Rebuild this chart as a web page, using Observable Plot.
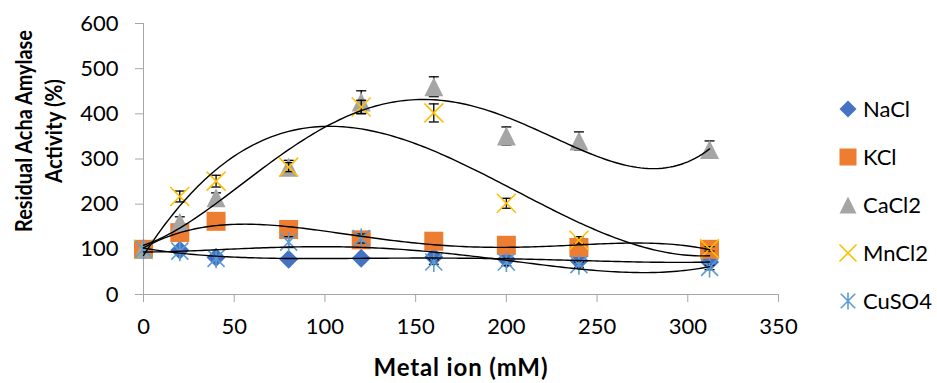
<!DOCTYPE html>
<html>
<head>
<meta charset="utf-8">
<script src="https://cdn.jsdelivr.net/npm/d3@7"></script>
<script src="https://cdn.jsdelivr.net/npm/@observablehq/plot@0.6"></script>
<style>
  body { margin: 0; background: #fff; }
  #chart { width: 937px; height: 383px; }
</style>
</head>
<body>
<div id="chart"></div>
<script>
// Metal ion concentration (mM)
const concentration = [0, 20, 40, 80, 120, 160, 200, 240, 312];

// Residual activity (%) for each salt
const nacl  = [100,  98,  82,  78,  80,  83,  78,  75,  72];
const kcl   = [100, 137, 162, 144, 121, 118, 109, 104, 100];
const cacl2 = [100, 160, 214, 282, 426, 460, 351, 340, 321];
const mncl2 = [100, 217, 251, 282, 415, 402, 202, 120, 101];
const cuso4 = [100,  96,  80, 116, 124,  72,  72,  66,  60];

// Standard deviations (error bars)
const naclErr  = [0, 0, 0, 0, 0, 0, 0, 0, 0];
const kclErr   = [0, 0, 0, 0, 0, 0, 0, 0, 0];
const cacl2Err = [0, 12, 11, 15, 25, 22, 20, 20, 19];
const mncl2Err = [0, 12, 13, 10, 15, 20, 11, 8, 5];
const cuso4Err = [0, 0, 0, 12, 10, 5, 8, 6, 5];

// Polynomial order of each trend line
const trendOrder = [4, 4, 4, 3, 4];

const saltNames = ["NaCl", "KCl", "CaCl2", "MnCl2", "CuSO4"];
const saltColors = ["#4472C4", "#ED7D31", "#A5A5A5", "#FFC000", "#5B9BD5"];
const xTicks = [0, 50, 100, 150, 200, 250, 300, 350];
const yTicks = [0, 100, 200, 300, 400, 500, 600];

// Marker shapes (half-size = r)
const half = size => Math.sqrt(size / Math.PI);
const diamond = {draw(c, s) { const h = half(s); c.moveTo(0, -h); c.lineTo(h, 0); c.lineTo(0, h); c.lineTo(-h, 0); c.closePath(); }};
const square = {draw(c, s) { const h = half(s); c.rect(-h, -h, 2 * h, 2 * h); }};
const triangle = {draw(c, s) { const h = half(s); c.moveTo(0, -h); c.lineTo(h, h); c.lineTo(-h, h); c.closePath(); }};
const cross = {draw(c, s) { const h = half(s); c.moveTo(-h, -h); c.lineTo(h, h); c.moveTo(h, -h); c.lineTo(-h, h); }};
const star = {draw(c, s) { const h = half(s), d = h * 0.85; c.moveTo(0, -h); c.lineTo(0, h); c.moveTo(-d, -d); c.lineTo(d, d); c.moveTo(d, -d); c.lineTo(-d, d); }};
const cap = {draw(c, s) { const h = half(s); c.moveTo(-h, 0); c.lineTo(h, 0); }};

const series = [
  {name: saltNames[0], values: nacl,  err: naclErr,  color: saltColors[0], symbol: diamond,  filled: true,  r: 9.5},
  {name: saltNames[1], values: kcl,   err: kclErr,   color: saltColors[1], symbol: square,   filled: true,  r: 9.5},
  {name: saltNames[2], values: cacl2, err: cacl2Err, color: saltColors[2], symbol: triangle, filled: true,  r: 9.5},
  {name: saltNames[3], values: mncl2, err: mncl2Err, color: saltColors[3], symbol: cross,    filled: false, r: 9.5},
  {name: saltNames[4], values: cuso4, err: cuso4Err, color: saltColors[4], symbol: star,     filled: false, r: 10}
];

// Least-squares polynomial trend line
function polyfit(xs, ys, order) {
  const n = order + 1;
  const A = Array.from({length: n}, () => new Array(n + 1).fill(0));
  xs.forEach((x, k) => {
    const t = x / 100;
    for (let i = 0; i < n; i++) {
      for (let j = 0; j < n; j++) A[i][j] += Math.pow(t, i + j);
      A[i][n] += Math.pow(t, i) * ys[k];
    }
  });
  for (let i = 0; i < n; i++) {
    let p = i;
    for (let r = i + 1; r < n; r++) if (Math.abs(A[r][i]) > Math.abs(A[p][i])) p = r;
    [A[i], A[p]] = [A[p], A[i]];
    for (let r = 0; r < n; r++) {
      if (r === i) continue;
      const f = A[r][i] / A[i][i];
      for (let c = i; c <= n; c++) A[r][c] -= f * A[i][c];
    }
  }
  const coef = A.map((row, i) => row[n] / row[i]);
  return x => coef.reduce((s, c, i) => s + c * Math.pow(x / 100, i), 0);
}

const marks = [
  Plot.ruleY([0], {stroke: "#a6a6a6"}),
  Plot.ruleX([0], {stroke: "#a6a6a6"}),
  Plot.axisX(xTicks, {tickSize: 8, tickPadding: 16, stroke: "#a6a6a6", fill: "#000", label: null}),
  Plot.axisY(yTicks, {tickSize: 8, tickPadding: 17, stroke: "#a6a6a6", fill: "#000", label: null})
];

for (const s of series) {
  const rows = concentration.map((x, i) => ({x, y: s.values[i], e: s.err[i]}));
  const bars = rows.filter(d => d.e > 0);
  marks.push(
    Plot.ruleX(bars, {x: "x", y1: d => d.y - d.e, y2: d => d.y + d.e, stroke: "#000", strokeWidth: 1.3}),
    Plot.dot(bars, {x: "x", y: d => d.y + d.e, symbol: cap, r: 5, stroke: "#000", strokeWidth: 1.3}),
    Plot.dot(bars, {x: "x", y: d => d.y - d.e, symbol: cap, r: 5, stroke: "#000", strokeWidth: 1.3}),
    s.filled
      ? Plot.dot(rows, {x: "x", y: "y", symbol: s.symbol, r: s.r, fill: s.color, stroke: "none"})
      : Plot.dot(rows, {x: "x", y: "y", symbol: s.symbol, r: s.r, fill: "none", stroke: s.color, strokeWidth: 1.6})
  );
}

// Trend lines on top of the markers
series.forEach((s, i) => {
  const f = polyfit(concentration, s.values, trendOrder[i]);
  const xMax = d3.max(concentration);
  const pts = d3.range(0, xMax + 0.001, 2).map(x => ({x, y: f(x)}));
  marks.push(Plot.line(pts, {x: "x", y: "y", stroke: "#000", strokeWidth: 1.4, curve: "linear"}));
});

const chart = Plot.plot({
  width: 937,
  height: 383,
  marginLeft: 143,
  marginRight: 159,
  marginTop: 23,
  marginBottom: 89,
  x: {domain: [0, 350]},
  y: {domain: [0, 600]},
  style: {fontFamily: "Lato, sans-serif", fontSize: "22px", color: "#000", background: "#fff", overflow: "visible"},
  marks
});
document.getElementById("chart").append(chart);

// Axis titles and legend
const svg = d3.select(chart);
svg.append("text")
  .attr("x", 460.5).attr("y", 376)
  .attr("text-anchor", "middle")
  .attr("font-family", "Lato, sans-serif").attr("font-weight", "bold").attr("font-size", 24)
  .attr("textLength", 174).attr("lengthAdjust", "spacing")
  .attr("fill", "#000")
  .text("Metal ion (mM)");

const yTitle = [["Residual Acha Amylase", 202], ["Activity (%)", 104]];
yTitle.forEach(([t, len], i) => {
  svg.append("text")
    .attr("transform", `translate(${32 + 30 * i},131) rotate(-90)`)
    .attr("text-anchor", "middle")
    .attr("font-family", "Lato, sans-serif").attr("font-weight", "bold").attr("font-size", 23)
    .attr("textLength", len).attr("lengthAdjust", "spacingAndGlyphs")
    .attr("fill", "#000")
    .text(t);
});

const legend = svg.append("g").attr("text-anchor", "start");
series.forEach((s, i) => {
  const cy = 109 + 48 * i;
  const path = d3.symbol(s.symbol, Math.PI * 8.5 * 8.5)();
  legend.append("path")
    .attr("transform", `translate(848,${cy})`)
    .attr("d", path)
    .attr("fill", s.filled ? s.color : "none")
    .attr("stroke", s.filled ? "none" : s.color)
    .attr("stroke-width", 1.6);
  legend.append("text")
    .attr("x", 863).attr("y", cy).attr("dy", "0.36em")
    .attr("text-anchor", "start")
    .attr("font-family", "Lato, sans-serif").attr("font-size", 22)
    .attr("fill", "#000")
    .text(s.name);
});
</script>
</body>
</html>
